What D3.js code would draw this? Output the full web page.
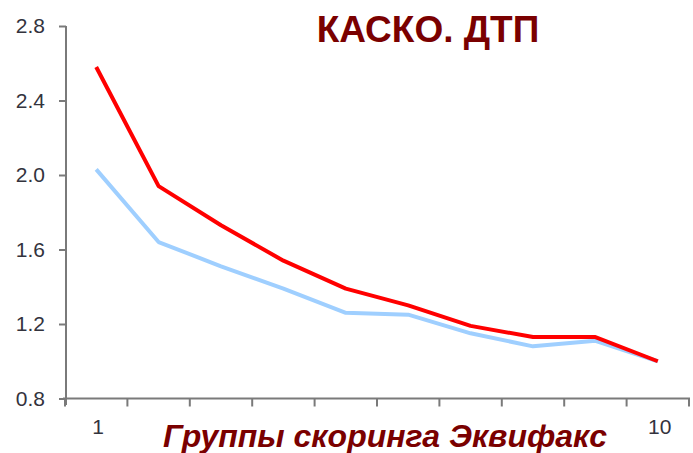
<!DOCTYPE html>
<html><head><meta charset="utf-8">
<script src="https://cdn.jsdelivr.net/npm/d3@7"></script>
<style>body{margin:0;background:#fff}svg{display:block}</style>
</head><body>
<svg id="c" width="693" height="453"></svg>
<script>
const groups = [1,2,3,4,5,6,7,8,9,10];
const groupLabels = ["1","","","","","","","","","10"];
const redSeries = [2.58,1.94,1.73,1.54,1.39,1.30,1.19,1.13,1.13,1.00];
const blueSeries = [2.03,1.64,1.51,1.39,1.26,1.25,1.15,1.08,1.11,1.00];
const yTicks = [0.8,1.2,1.6,2.0,2.4,2.8];
const title = "КАСКО. ДТП";
const xTitle = "Группы скоринга Эквифакс";

const svg = d3.select("#c");
const x = d3.scaleBand().domain(groups).range([65, 689]).paddingInner(0).paddingOuter(0);
const y = d3.scaleLinear().domain([0.8, 2.8]).range([398.5, 26]);
const axisColor = "#7a7a7a";
const labelFont = "'Liberation Sans', Arial, sans-serif";

// y axis
const ya = svg.append("g").attr("transform","translate(66,0)")
  .call(d3.axisLeft(y).tickValues(yTicks).tickFormat(d3.format(".1f")).tickSize(7).tickPadding(14).tickSizeOuter(0));
ya.select(".domain").remove();
ya.append("line").attr("x1",0).attr("x2",0).attr("y1",26).attr("y2",405).attr("stroke",axisColor).attr("stroke-width",2);
ya.selectAll(".tick line").attr("stroke",axisColor).attr("stroke-width",2);
ya.selectAll(".tick text").attr("fill","#33333d").style("font-family",labelFont).style("font-size","21px");

// x axis: ticks at band boundaries
const bounds = groups.map(g=>x(g)).concat([x(10)+x.bandwidth()]);
const xa = svg.append("g").attr("transform","translate(0,398.5)");
xa.append("line").attr("x1",63).attr("x2",690).attr("stroke",axisColor).attr("stroke-width",2);
xa.selectAll("line.t").data(bounds).join("line").attr("class","t")
  .attr("x1",d=>d).attr("x2",d=>d).attr("y1",0).attr("y2",8).attr("stroke",axisColor).attr("stroke-width",2);
xa.selectAll("text.l").data(groups).join("text").attr("class","l")
  .attr("x",d=>x(d)+x.bandwidth()/2+2).attr("y",35)
  .attr("text-anchor","middle").attr("fill","#33333d")
  .style("font-family",labelFont).style("font-size","21px")
  .text((d,i)=>groupLabels[i]);

// lines
const line = d3.line().x((d,i)=>x(groups[i])+x.bandwidth()/2).y(d=>y(d));
svg.append("path").datum(blueSeries).attr("d",line).attr("fill","none")
  .attr("stroke","#9fcfff").attr("stroke-width",4).attr("stroke-linejoin","round");
svg.append("path").datum(redSeries).attr("d",line).attr("fill","none")
  .attr("stroke","#ff0000").attr("stroke-width",4).attr("stroke-linejoin","round");

// titles
svg.append("text").attr("x",428).attr("y",42).attr("text-anchor","middle")
  .attr("fill","#7a0000").style("font-family",labelFont).style("font-weight","bold").style("font-size","37px")
  .text(title);
svg.append("text").attr("x",385).attr("y",447).attr("text-anchor","middle")
  .attr("fill","#7a0000").style("font-family",labelFont).style("font-weight","bold").style("font-style","italic").style("font-size","32px")
  .text(xTitle);
</script>
</body></html>
